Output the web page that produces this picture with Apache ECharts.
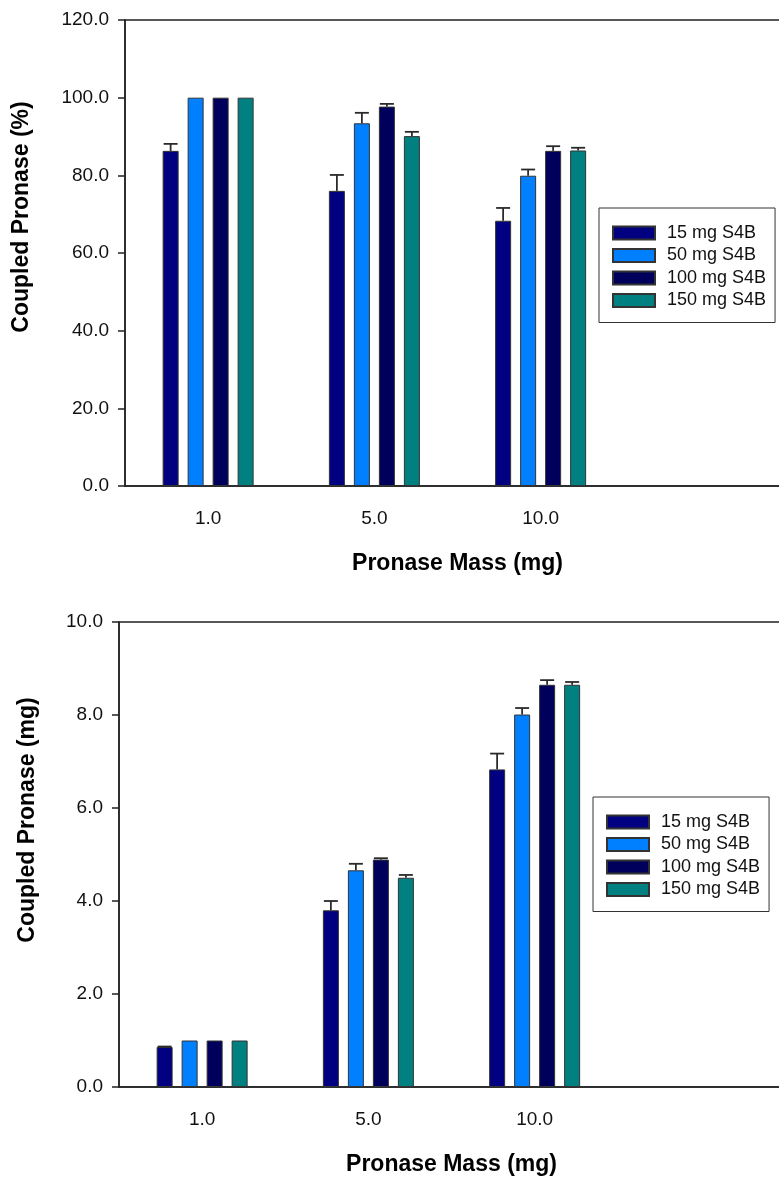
<!DOCTYPE html>
<html>
<head>
<meta charset="utf-8">
<title>Coupled Pronase</title>
<script src="https://cdn.jsdelivr.net/npm/echarts@6/dist/echarts.min.js"></script>
<style>
  html, body { margin: 0; padding: 0; background: #fff; overflow: hidden; }
  /* 画布比窗口宽一点，右侧坐标轴被裁掉 */
  #main { width: 800px; height: 1178px; }
</style>
</head>
<body>
<div id="main"></div>
<script>
// 横轴类别（最后一个为空，坐标轴延伸到图外）
var categories = ['1.0', '5.0', '10.0', ''];
var seriesNames = ['15 mg S4B', '50 mg S4B', '100 mg S4B', '150 mg S4B'];
var colors = ['#000080', '#0080FF', '#00005C', '#008080'];

// 上图: 偶联百分比 (%)
var pct15 = [86.3, 76.0, 68.3];
var pct50 = [100, 93.4, 79.9];
var pct100 = [100, 97.7, 86.3];
var pct150 = [100, 90.1, 86.4];
var pctErr15 = [1.8, 4.1, 3.3];
var pctErr50 = [0, 2.7, 1.6];
var pctErr100 = [0, 0.7, 1.2];
var pctErr150 = [0, 1.1, 0.7];

// 下图: 偶联质量 (mg)
var mg15 = [0.86, 3.80, 6.83];
var mg50 = [1.0, 4.66, 8.01];
var mg100 = [1.0, 4.89, 8.65];
var mg150 = [1.0, 4.50, 8.65];
var mgErr15 = [0.01, 0.20, 0.34];
var mgErr50 = [0, 0.14, 0.14];
var mgErr100 = [0, 0.03, 0.10];
var mgErr150 = [0, 0.06, 0.06];

var BAR_W = 16;
var BAR_GAP = 9;

var chart = echarts.init(document.getElementById('main'));

function xAxisFor(gridIndex) {
   return {
      type: 'category',
      gridIndex: gridIndex,
      data: categories,
      name: 'Pronase Mass (mg)',
      nameLocation: 'middle',
      nameGap: 66,
      nameTextStyle: { fontFamily: 'Liberation Sans', fontWeight: 'bold', fontSize: 23, color: '#000' },
      axisLine: { lineStyle: { color: '#222', width: 1.5 } },
      axisTick: {
         alignWithLabel: true,
         length: 7,
         lineStyle: { color: '#222', width: 1.5 },
         interval: function (index, value) { return value !== ''; }
      },
      axisLabel: { fontFamily: 'Liberation Sans', fontSize: 19, color: '#111', margin: 23 },
      splitLine: { show: false }
   };
}

function yAxisFor(gridIndex, max, interval) {
   return {
      type: 'value',
      gridIndex: gridIndex,
      min: 0,
      max: max,
      interval: interval,
      axisLine: { show: true, lineStyle: { color: '#222', width: 1.5 } },
      axisTick: { show: true, length: 7, lineStyle: { color: '#222', width: 1.5 } },
      axisLabel: {
         fontFamily: 'Liberation Sans', fontSize: 19, color: '#111', margin: 16,
         formatter: function (v) { return v.toFixed(1); }
      },
      splitLine: { show: false }
   };
}

// 柱状图系列
function barSeries(name, color, data, idx) {
   return {
      name: name,
      type: 'bar',
      xAxisIndex: idx,
      yAxisIndex: idx,
      data: data,
      barWidth: BAR_W,
      barGap: (BAR_GAP / BAR_W * 100) + '%',
      itemStyle: { color: color, borderColor: '#333', borderWidth: 1 },
      animation: false
   };
}

// 误差线（只画上半部分）
function errSeries(values, errs, pos, idx) {
   var data = values.map(function (v, i) { return [i, v, errs[i]]; });
   var offset = (pos - 1.5) * (BAR_W + BAR_GAP);
   return {
      type: 'custom',
      xAxisIndex: idx,
      yAxisIndex: idx,
      data: data,
      z: 5,
      animation: false,
      renderItem: function (params, api) {
         var e = api.value(2);
         if (!e) return null;
         var base = api.coord([api.value(0), api.value(1)]);
         var top = api.coord([api.value(0), api.value(1) + e]);
         var x = base[0] + offset;
         var style = { stroke: '#2a2a2a', lineWidth: 1.8 };
         return {
            type: 'group',
            children: [
               { type: 'line', shape: { x1: x, y1: base[1], x2: x, y2: top[1] }, style: style },
               { type: 'line', shape: { x1: x - 7, y1: top[1], x2: x + 7, y2: top[1] }, style: style }
            ]
         };
      }
   };
}

function legendFor(left, top) {
   return {
      orient: 'vertical',
      left: left,
      top: top,
      data: seriesNames,
      icon: 'rect',
      itemWidth: 42,
      itemHeight: 13,
      itemGap: 2.5,
      padding: [15, 9, 12, 13],
      borderColor: '#333',
      borderWidth: 1,
      textStyle: { fontFamily: 'Liberation Sans', fontSize: 18, color: '#111', lineHeight: 20, padding: [0, 0, 0, 7] }
   };
}

var pctVals = [pct15, pct50, pct100, pct150];
var pctErrs = [pctErr15, pctErr50, pctErr100, pctErr150];
var mgVals = [mg15, mg50, mg100, mg150];
var mgErrs = [mgErr15, mgErr50, mgErr100, mgErr150];

var series = [];
seriesNames.forEach(function (name, i) {
   series.push(barSeries(name, colors[i], pctVals[i], 0));
   series.push(barSeries(name, colors[i], mgVals[i], 1));
});
seriesNames.forEach(function (name, i) {
   series.push(errSeries(pctVals[i], pctErrs[i], i, 0));
   series.push(errSeries(mgVals[i], mgErrs[i], i, 1));
});

var option = {
   backgroundColor: '#fff',
   animation: false,
   grid: [
      { left: 125, top: 20, width: 665, height: 466, show: true, borderColor: '#222', borderWidth: 1.5 },
      { left: 119, top: 622, width: 665, height: 465, show: true, borderColor: '#222', borderWidth: 1.5 }
   ],
   xAxis: [xAxisFor(0), xAxisFor(1)],
   yAxis: [yAxisFor(0, 120, 20), yAxisFor(1, 10, 2)],
   legend: [legendFor(599, 208), legendFor(593, 797)],
   // 纵轴标题
   graphic: [
      {
         type: 'text', x: 22, y: 217, rotation: Math.PI / 2,
         style: {
            text: 'Coupled Pronase (%)', fontFamily: 'Liberation Sans', fontWeight: 'bold',
            fontSize: 23, fill: '#000', align: 'center', verticalAlign: 'middle'
         }
      },
      {
         type: 'text', x: 28, y: 820, rotation: Math.PI / 2,
         style: {
            text: 'Coupled Pronase (mg)', fontFamily: 'Liberation Sans', fontWeight: 'bold',
            fontSize: 23, fill: '#000', align: 'center', verticalAlign: 'middle'
         }
      }
   ],
   series: series
};

chart.setOption(option);
</script>
</body>
</html>
